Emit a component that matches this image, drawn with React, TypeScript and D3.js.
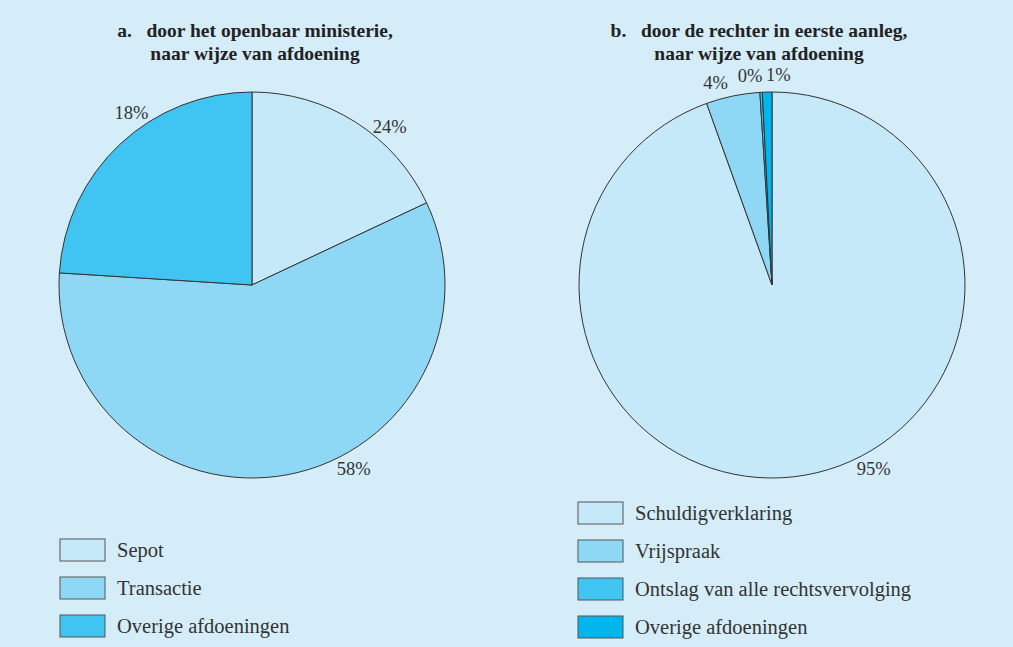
import React from "react";
import * as d3 from "d3";

const W = 1013;
const H = 647;

// Pie a: door het openbaar ministerie
const catsA = ["Sepot", "Transactie", "Overige afdoeningen"];
const valuesA = [18, 58, 24];
const labelsA = ["24%", "58%", "18%"];

// Pie b: door de rechter in eerste aanleg
const catsB = ["Schuldigverklaring", "Vrijspraak", "Ontslag van alle rechtsvervolging", "Overige afdoeningen"];
const valuesB = [94.5, 4.5, 0.2, 0.8];
const labelsB = ["95%", "4%", "0%", "1%"];

const colorsA = ["#c6e9f9", "#8fd8f5", "#40c5f2"];
const colorsB = ["#c6e9f9", "#8fd8f5", "#40c5f2", "#00b6ec"];

// label placement angles (degrees, clockwise from top)
const labelAnglesA = [41, 151, -35];
const labelAnglesB = [151, -15.6, -6, 1.7];

const BG = "#d5edf9";
const STROKE = "#333";
const FONT = "'Liberation Serif', 'DejaVu Serif', serif";

type PieProps = {
  cx: number;
  cy: number;
  r: number;
  values: number[];
  colors: string[];
  labels: string[];
  labelAngles: number[];
};

function Pie({ cx, cy, r, values, colors, labels, labelAngles }: PieProps) {
  const pie = d3.pie<number>().sort(null).value((d) => d)(values);
  const arc = d3.arc<d3.PieArcDatum<number>>().innerRadius(0).outerRadius(r);
  const lr = r + 17;
  return (
    <g transform={`translate(${cx},${cy})`}>
      {pie.map((p, i) => (
        <path key={i} d={arc(p) || ""} fill={colors[i]} stroke={STROKE} strokeWidth={1} strokeLinejoin="round" />
      ))}
      {labels.map((t, i) => {
        const a = (labelAngles[i] * Math.PI) / 180;
        return (
          <text
            key={i}
            x={Math.sin(a) * lr}
            y={-Math.cos(a) * lr}
            textAnchor="middle"
            dominantBaseline="central"
            fontFamily={FONT}
            fontSize={18.5}
            fill="#333"
          >
            {t}
          </text>
        );
      })}
    </g>
  );
}

function Legend({ x, y, cats, colors, step }: { x: number; y: number; cats: string[]; colors: string[]; step: number }) {
  return (
    <g transform={`translate(${x},${y})`}>
      {cats.map((c, i) => (
        <g key={i} transform={`translate(0,${i * step})`}>
          <rect x={0} y={0} width={45} height={22} fill={colors[i]} stroke="#555" strokeWidth={1} />
          <text x={57} y={18} fontFamily={FONT} fontSize={20.5} fill="#333">
            {c}
          </text>
        </g>
      ))}
    </g>
  );
}

function Title({ x, y, letter, line1, line2 }: { x: number; y: number; letter: string; line1: string; line2: string }) {
  return (
    <g fontFamily={FONT} fontWeight="bold" fontSize={19.5} fill="#222">
      <text x={x} y={y} textAnchor="middle" style={{ whiteSpace: "pre" }}>
        {`${letter}   ${line1}`}
      </text>
      <text x={x} y={y + 23} textAnchor="middle">
        {line2}
      </text>
    </g>
  );
}

export default function App() {
  return (
    <svg width={W} height={H} style={{ position: "absolute", left: 0, top: 0, display: "block" }}>
      <rect x={0} y={0} width={W} height={H} fill={BG} />
      <Title x={255} y={37} letter="a." line1="door het openbaar ministerie," line2="naar wijze van afdoening" />
      <Title x={759} y={37} letter="b." line1="door de rechter in eerste aanleg," line2="naar wijze van afdoening" />
      <Pie cx={252} cy={285} r={193} values={valuesA} colors={colorsA} labels={labelsA} labelAngles={labelAnglesA} />
      <Pie cx={772} cy={285} r={193} values={valuesB} colors={colorsB} labels={labelsB} labelAngles={labelAnglesB} />
      <Legend x={60} y={539} cats={catsA} colors={colorsA} step={38} />
      <Legend x={578} y={502} cats={catsB} colors={colorsB} step={38} />
    </svg>
  );
}
